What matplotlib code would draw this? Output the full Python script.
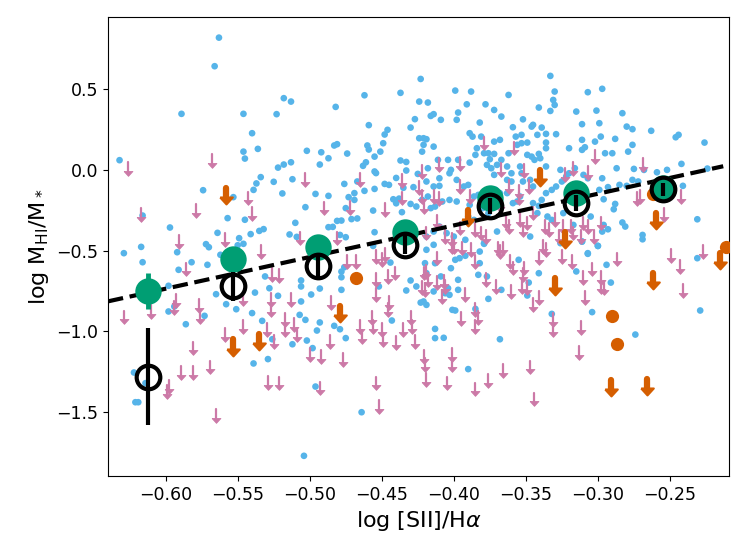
import numpy as np
import matplotlib
matplotlib.use("Agg")
import matplotlib.pyplot as plt

# detections (blue dots): log [SII]/Halpha, log MHI/M*
blue_pts = np.array([
    (-0.563, 0.819), (-0.566, 0.642), (-0.632, 0.060), (-0.589, 0.347), (-0.546, 0.347),
    (-0.540, 0.227), (-0.546, 0.113), (-0.545, 0.070), (-0.536, 0.130), (-0.518, 0.444),
    (-0.513, 0.423), (-0.523, 0.345), (-0.482, 0.390), (-0.462, 0.462), (-0.437, 0.477),
    (-0.423, 0.563), (-0.459, 0.277), (-0.448, 0.219), (-0.446, 0.248), (-0.449, 0.165),
    (-0.460, 0.151), (-0.459, 0.126), (-0.451, 0.113), (-0.455, 0.082), (-0.461, 0.047),
    (-0.463, 0.025), (-0.455, -0.010), (-0.454, -0.020), (-0.455, -0.118), (-0.462, -0.130),
    (-0.448, -0.087), (-0.445, -0.093), (-0.430, 0.262), (-0.427, 0.314), (-0.424, 0.423),
    (-0.424, 0.196), (-0.437, 0.058), (-0.433, 0.049), (-0.433, -0.004), (-0.425, -0.025),
    (-0.440, -0.050), (-0.428, -0.107), (-0.435, -0.111), (-0.442, -0.182), (-0.440, -0.207),
    (-0.438, -0.178), (-0.436, -0.262), (-0.430, -0.211), (-0.426, -0.227), (-0.492, 0.109),
    (-0.487, 0.072), (-0.481, 0.159), (-0.483, 0.151), (-0.474, 0.101), (-0.502, 0.118),
    (-0.493, 0.033), (-0.487, -0.161), (-0.496, -0.149), (-0.476, -0.087), (-0.467, -0.072),
    (-0.469, -0.144), (-0.473, -0.169), (-0.469, -0.186), (-0.475, -0.237), (-0.456, -0.252),
    (-0.481, -0.316), (-0.478, -0.314), (-0.471, -0.305), (-0.467, -0.301), (-0.487, -0.355),
    (-0.484, -0.353), (-0.479, -0.403), (-0.475, -0.417), (-0.455, -0.386), (-0.503, -0.231),
    (-0.510, -0.328), (-0.514, -0.400), (-0.509, -0.415), (-0.513, 0.047), (-0.518, 0.033),
    (-0.522, 0.014), (-0.512, -0.058), (-0.525, -0.074), (-0.519, -0.146), (-0.534, -0.045),
    (-0.537, -0.084), (-0.539, -0.124), (-0.574, -0.126), (-0.553, -0.169), (-0.557, -0.299),
    (-0.545, -0.309), (-0.597, -0.357), (-0.564, -0.390), (-0.549, -0.423), (-0.535, -0.378),
    (-0.532, -0.367), (-0.541, -0.398), (-0.572, -0.460), (-0.570, -0.479), (-0.617, -0.477),
    (-0.616, -0.283), (-0.550, -0.467), (-0.546, -0.458), (-0.456, -0.471),
    (-0.629, -0.516), (-0.616, -0.572), (-0.598, -0.718), (-0.598, -0.877), (-0.586, -0.956),
    (-0.594, -0.846), (-0.591, -0.619), (-0.592, -0.510), (-0.582, -0.572), (-0.571, -0.588),
    (-0.573, -0.904), (-0.565, -0.770), (-0.562, -0.526), (-0.558, -0.832), (-0.551, -0.863),
    (-0.538, -0.760), (-0.540, -0.887), (-0.533, -0.935), (-0.531, -0.660), (-0.528, -0.733),
    (-0.522, -0.780), (-0.526, -1.049), (-0.529, -1.172), (-0.539, -1.199), (-0.512, -1.080),
    (-0.506, -0.685), (-0.506, -0.722), (-0.506, -0.815), (-0.507, -0.898), (-0.503, -0.929),
    (-0.502, -1.057), (-0.498, -1.104), (-0.499, -0.772), (-0.493, -0.735), (-0.493, -0.945),
    (-0.495, -0.995), (-0.496, -1.342), (-0.504, -1.771), (-0.478, -0.743), (-0.478, -0.665),
    (-0.478, -0.630), (-0.476, -0.603), (-0.483, -0.966), (-0.479, -0.987), (-0.475, -1.042),
    (-0.464, -1.501), (-0.622, -1.255), (-0.621, -1.439), (-0.619, -1.439), (-0.614, -1.321),
    (-0.443, -0.933), (-0.430, -0.685), (-0.426, -0.722), (-0.433, -0.747), (-0.423, -0.822),
    (-0.452, -0.722), (-0.444, -0.574),
    (-0.333, 0.582), (-0.330, 0.485), (-0.331, 0.433), (-0.330, 0.402), (-0.333, 0.365),
    (-0.341, 0.386), (-0.362, 0.464), (-0.388, 0.485), (-0.399, 0.491), (-0.391, 0.406),
    (-0.378, 0.406), (-0.372, 0.371), (-0.367, 0.330), (-0.382, 0.293), (-0.397, 0.355),
    (-0.398, 0.310), (-0.409, 0.310), (-0.414, 0.345), (-0.416, 0.334), (-0.418, 0.417),
    (-0.389, 0.227), (-0.387, 0.206), (-0.381, 0.206), (-0.372, 0.175), (-0.368, 0.186),
    (-0.359, 0.264), (-0.352, 0.313), (-0.346, 0.268), (-0.345, 0.279), (-0.339, 0.262),
    (-0.342, 0.217), (-0.336, 0.223), (-0.329, 0.221), (-0.357, 0.206), (-0.353, 0.217),
    (-0.349, 0.169), (-0.336, 0.169), (-0.336, 0.134), (-0.341, 0.099), (-0.421, 0.196),
    (-0.419, 0.190), (-0.421, 0.155), (-0.422, 0.113), (-0.414, 0.144), (-0.418, 0.010),
    (-0.411, 0.062), (-0.404, 0.062), (-0.402, 0.000), (-0.403, -0.021), (-0.410, -0.052),
    (-0.414, -0.103), (-0.410, -0.099), (-0.419, -0.072), (-0.398, -0.062), (-0.397, 0.062),
    (-0.389, 0.045), (-0.384, 0.134), (-0.385, 0.093), (-0.379, 0.103), (-0.376, 0.103),
    (-0.372, 0.099), (-0.375, 0.066), (-0.377, 0.031), (-0.374, 0.010), (-0.372, -0.031),
    (-0.370, 0.031), (-0.367, 0.062), (-0.363, 0.021), (-0.360, -0.021), (-0.362, 0.103),
    (-0.356, 0.155), (-0.353, 0.165), (-0.349, 0.093), (-0.346, 0.082), (-0.344, 0.062),
    (-0.340, 0.072), (-0.336, 0.021), (-0.354, 0.021), (-0.353, -0.021), (-0.347, -0.062),
    (-0.352, -0.072), (-0.345, -0.103), (-0.363, -0.062), (-0.360, -0.072), (-0.368, -0.144),
    (-0.363, -0.144), (-0.371, -0.124), (-0.354, -0.165), (-0.356, -0.196), (-0.359, -0.206),
    (-0.345, -0.206), (-0.341, -0.223), (-0.339, -0.186), (-0.336, -0.144), (-0.332, -0.124),
    (-0.329, -0.103), (-0.403, -0.186), (-0.398, -0.196), (-0.408, -0.196), (-0.413, -0.227),
    (-0.416, -0.237), (-0.418, -0.165), (-0.422, -0.186), (-0.389, -0.217), (-0.386, -0.165),
    (-0.383, -0.155), (-0.393, -0.103), (-0.390, -0.093), (-0.380, -0.237), (-0.376, -0.268),
    (-0.390, -0.289), (-0.386, -0.310), (-0.410, -0.351), (-0.414, -0.382), (-0.419, -0.413),
    (-0.405, -0.392), (-0.400, -0.413), (-0.370, -0.382), (-0.379, -0.454), (-0.392, -0.433),
    (-0.347, -0.413), (-0.335, -0.289), (-0.332, -0.310), (-0.342, -0.268),
    (-0.419, -0.495), (-0.414, -0.464), (-0.420, -0.578), (-0.413, -0.578), (-0.419, -0.640),
    (-0.409, -0.660), (-0.404, -0.733), (-0.406, -0.764), (-0.414, -0.753), (-0.421, -0.815),
    (-0.419, -0.836), (-0.402, -0.609), (-0.399, -0.557), (-0.396, -0.547), (-0.392, -0.532),
    (-0.397, -0.681), (-0.397, -0.743), (-0.403, -0.774), (-0.401, -0.867), (-0.399, -0.871),
    (-0.413, -0.985), (-0.413, -1.042), (-0.407, -1.040), (-0.382, -0.506), (-0.379, -0.458),
    (-0.382, -0.578), (-0.383, -0.650), (-0.377, -0.660), (-0.376, -0.799), (-0.367, -0.743),
    (-0.385, -0.861), (-0.390, -1.234), (-0.368, -1.049), (-0.355, -0.557), (-0.348, -0.698),
    (-0.349, -0.778), (-0.341, -0.640), (-0.332, -0.892), (-0.304, -0.881), (-0.315, -0.629),
    (-0.307, -0.520), (-0.300, -0.471), (-0.294, -0.588), (-0.291, -0.698), (-0.311, -0.444),
    (-0.326, -0.454), (-0.274, -1.020), (-0.231, -0.547), (-0.229, -0.871),
    (-0.307, 0.481), (-0.297, 0.502), (-0.315, 0.361), (-0.301, 0.367), (-0.283, 0.351),
    (-0.311, 0.283), (-0.299, 0.289), (-0.280, 0.268), (-0.276, 0.252), (-0.263, 0.242),
    (-0.246, 0.202), (-0.244, 0.217), (-0.226, 0.169), (-0.298, 0.206), (-0.302, 0.175),
    (-0.311, 0.186), (-0.309, 0.140), (-0.311, 0.124), (-0.320, 0.134), (-0.295, 0.103),
    (-0.290, 0.103), (-0.288, 0.192), (-0.279, 0.113), (-0.276, 0.155), (-0.287, 0.010),
    (-0.275, 0.006), (-0.268, 0.000), (-0.259, -0.015), (-0.252, 0.000), (-0.242, 0.037),
    (-0.297, -0.052), (-0.307, -0.052), (-0.310, -0.031), (-0.285, -0.093), (-0.280, -0.099),
    (-0.276, -0.062), (-0.272, -0.072), (-0.293, -0.107), (-0.299, -0.124), (-0.296, -0.182),
    (-0.241, -0.099), (-0.288, -0.211), (-0.289, -0.244), (-0.305, -0.289), (-0.317, -0.341),
    (-0.283, -0.326), (-0.281, -0.351), (-0.296, -0.341), (-0.297, -0.382), (-0.293, -0.368),
    (-0.311, -0.444), (-0.300, -0.471), (-0.269, -0.403), (-0.269, -0.430), (-0.231, -0.306),
    (-0.307, -0.516), (-0.320, -0.021), (-0.316, 0.010), (-0.325, -0.072), (-0.322, -0.041),
    (-0.326, 0.000), (-0.316, -0.186), (-0.312, -0.165), (-0.324, -0.268), (-0.224, 0.008),
])

# non-detections (pink upper limits)
pink_pts = np.array([
    (-0.626, 0.047), (-0.568, 0.097), (-0.617, -0.237), (-0.579, -0.213), (-0.543, -0.134),
    (-0.540, -0.233), (-0.591, -0.404), (-0.559, -0.392), (-0.503, -0.021), (-0.490, -0.196),
    (-0.472, -0.192), (-0.465, -0.021), (-0.448, -0.206), (-0.436, -0.025), (-0.436, -0.134),
    (-0.424, -0.072), (-0.507, -0.382), (-0.481, -0.382), (-0.534, -0.464),
    (-0.629, -0.871), (-0.610, -0.836), (-0.593, -0.770), (-0.594, -0.815), (-0.586, -0.574),
    (-0.577, -0.801), (-0.576, -0.867), (-0.581, -1.063), (-0.598, -1.300), (-0.599, -1.331),
    (-0.589, -1.214), (-0.581, -1.214), (-0.569, -1.181), (-0.565, -1.482), (-0.559, -0.980),
    (-0.546, -0.929), (-0.546, -0.760), (-0.526, -0.609), (-0.521, -0.615), (-0.527, -0.764),
    (-0.527, -0.826), (-0.530, -0.949), (-0.525, -1.022), (-0.529, -1.276), (-0.521, -1.280),
    (-0.517, -0.887), (-0.517, -0.949), (-0.513, -0.764), (-0.511, -0.918), (-0.509, -0.980),
    (-0.500, -1.104), (-0.492, -1.115), (-0.493, -1.311), (-0.486, -1.022), (-0.485, -0.784),
    (-0.477, -1.135), (-0.474, -0.526), (-0.468, -0.526), (-0.465, -0.929), (-0.464, -0.991),
    (-0.457, -0.877), (-0.456, -0.929), (-0.454, -0.640), (-0.454, -0.733), (-0.454, -1.280),
    (-0.452, -1.424), (-0.450, -0.949), (-0.449, -1.011), (-0.446, -0.619), (-0.445, -0.784),
    (-0.446, -0.826), (-0.441, -0.599), (-0.440, -1.032), (-0.435, -0.949), (-0.430, -0.877),
    (-0.429, -0.929), (-0.427, -1.022), (-0.454, -0.495), (-0.450, -0.516), (-0.448, -0.485),
    (-0.401, -0.433), (-0.394, -0.444), (-0.388, -0.454), (-0.369, -0.444), (-0.366, -0.444),
    (-0.338, -0.433), (-0.336, -0.454), (-0.412, -0.506), (-0.385, -0.526), (-0.361, -0.526),
    (-0.359, -0.568), (-0.351, -0.568), (-0.352, -0.609), (-0.341, -0.506), (-0.325, -0.495),
    (-0.318, -0.526), (-0.304, -0.574), (-0.287, -0.512), (-0.298, -0.629), (-0.298, -0.681),
    (-0.296, -0.691), (-0.310, -0.629), (-0.309, -0.753), (-0.421, -0.599), (-0.419, -0.588),
    (-0.418, -0.640), (-0.422, -0.691), (-0.420, -0.702), (-0.412, -0.660), (-0.407, -0.650),
    (-0.406, -0.681), (-0.408, -0.743), (-0.392, -0.733), (-0.378, -0.640), (-0.371, -0.681),
    (-0.360, -0.712), (-0.353, -0.681), (-0.349, -0.691), (-0.345, -0.795), (-0.341, -0.753),
    (-0.395, -0.883), (-0.385, -0.826), (-0.383, -0.877), (-0.385, -0.929), (-0.331, -0.887),
    (-0.331, -0.949), (-0.312, -0.939), (-0.313, -1.090), (-0.421, -1.115), (-0.420, -1.166),
    (-0.419, -1.259), (-0.401, -1.104), (-0.401, -1.166), (-0.405, -1.280), (-0.385, -1.317),
    (-0.376, -1.263), (-0.366, -1.201), (-0.347, -1.181), (-0.344, -1.379), (-0.249, -0.491),
    (-0.243, -0.557), (-0.241, -0.706), (-0.227, -0.464),
    (-0.379, 0.206), (-0.358, 0.175), (-0.396, 0.082), (-0.410, 0.072), (-0.367, 0.041),
    (-0.351, 0.035), (-0.323, 0.010), (-0.317, 0.051), (-0.307, 0.021), (-0.302, 0.124),
    (-0.269, 0.072), (-0.422, 0.031), (-0.396, -0.062), (-0.389, -0.124), (-0.362, -0.062),
    (-0.355, -0.093), (-0.355, -0.134), (-0.348, -0.062), (-0.410, -0.140), (-0.414, -0.124),
    (-0.422, -0.124), (-0.421, -0.186), (-0.419, -0.351), (-0.412, -0.279), (-0.406, -0.372),
    (-0.396, -0.320), (-0.385, -0.330), (-0.381, -0.351), (-0.378, -0.372), (-0.368, -0.176),
    (-0.364, -0.279), (-0.362, -0.310), (-0.354, -0.268), (-0.349, -0.289), (-0.352, -0.330),
    (-0.345, -0.227), (-0.337, -0.310), (-0.334, -0.330), (-0.330, -0.268), (-0.327, -0.372),
    (-0.319, -0.310), (-0.317, -0.351), (-0.312, -0.372), (-0.310, -0.289), (-0.307, -0.310),
    (-0.303, -0.372), (-0.298, -0.289), (-0.273, -0.140), (-0.254, -0.237), (-0.242, -0.124),
    (-0.401, -0.392), (-0.400, -0.433), (-0.368, -0.464), (-0.271, -0.124), (-0.324, -0.310),
])

# orange sample: upper limits and detections
orange_lim_pts = np.array([
    (-0.558, -0.113), (-0.553, -1.049), (-0.535, -1.016), (-0.479, -0.842), (-0.340, 0.000),
    (-0.390, -0.248), (-0.260, -0.266), (-0.323, -0.382), (-0.330, -0.671), (-0.262, -0.636),
    (-0.291, -1.300), (-0.266, -1.296), (-0.215, -0.512),
])
orange_det_pts = np.array([
    (-0.468, -0.671), (-0.290, -0.904), (-0.287, -1.079), (-0.211, -0.475), (-0.262, -0.150),
])

# binned medians
bin_x = [-0.612, -0.553, -0.494, -0.434, -0.375, -0.315, -0.255]
green_y = [-0.749, -0.553, -0.475, -0.382, -0.175, -0.145, -0.113]
green_err = [0.11, 0.05, 0.05, 0.05, 0.05, 0.05, 0.05]
black_y = [-1.28, -0.722, -0.594, -0.464, -0.222, -0.204, -0.120]
black_err = [0.30, 0.09, 0.077, 0.06, 0.05, 0.05, 0.04]

# linear fit
fit_slope = 1.96
fit_intercept = 0.44
fit_xrange = [-0.64, -0.213]

c_blue = "#56B4E9"
c_pink = "#CC79A7"
c_orange = "#D55E00"
c_green = "#009E73"

# arrow head: triangle whose flat top sits on the marker position
head_marker = [(-1.0, 0.0), (1.0, 0.0), (0.0, -1.1), (-1.0, 0.0)]


def upper_limits(ax, pts, length, lw, head, edge, color, z):
    x, y = pts[:, 0], pts[:, 1]
    ax.vlines(x, y - length, y, colors=color, lw=lw, capstyle="round", zorder=z)
    ax.plot(x, y - length, ls="none", marker=head_marker, ms=head,
            color=color, mec=color, mew=edge, zorder=z)


fig = plt.figure(figsize=(7.47, 5.6), dpi=100)
ax = fig.add_axes([0.1446, 0.15, 0.8313, 0.82])

ax.scatter(blue_pts[:, 0], blue_pts[:, 1], s=23, color=c_blue, edgecolors="none", zorder=2)
upper_limits(ax, pink_pts, 0.055, 1.6, 7, 0.6, c_pink, 3)
upper_limits(ax, orange_lim_pts, 0.058, 4.5, 10, 1.5, c_orange, 4)
ax.plot(orange_det_pts[:, 0], orange_det_pts[:, 1], "o", color=c_orange, ms=9.5, mec="none", zorder=4)

fx = np.array(fit_xrange)
ax.plot(fx, fit_slope * fx + fit_intercept, "--", color="black", lw=3, zorder=5)

ax.errorbar(bin_x, green_y, yerr=green_err, fmt="o", color=c_green, ms=19, mec="none",
            elinewidth=3.5, capsize=0, zorder=6)
ax.errorbar(bin_x, black_y, yerr=black_err, fmt="o", mfc="none", mec="black", mew=3,
            color="black", ms=17, elinewidth=3, capsize=0, zorder=7)

ax.set_xlim(-0.640, -0.209)
ax.set_ylim(-1.896, 0.948)
ax.set_xticks([-0.60, -0.55, -0.50, -0.45, -0.40, -0.35, -0.30, -0.25])
ax.set_yticks([-1.5, -1.0, -0.5, 0.0, 0.5])
ax.tick_params(labelsize=12.5)
ax.set_xlabel(r"log [SII]/H$\alpha$", fontsize=16)
ax.set_ylabel(r"log M$_{\rm HI}$/M$_*$", fontsize=16)

fig.savefig("out.png", dpi=100)
